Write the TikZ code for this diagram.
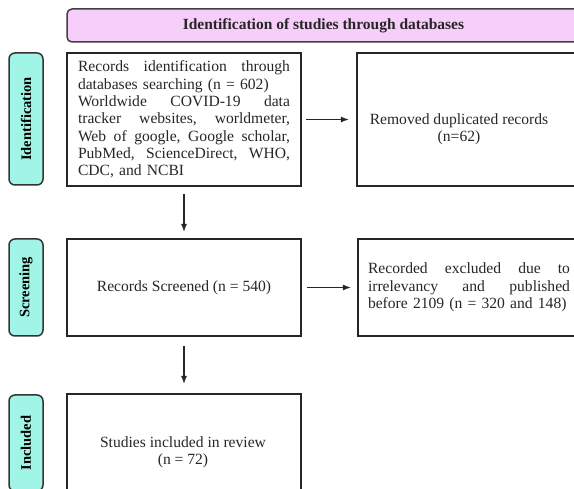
\documentclass[tikz,border=0pt]{standalone}
\usepackage{fontspec}
\setmainfont{Liberation Serif}
\usetikzlibrary{arrows.meta}
\definecolor{bannerpink}{HTML}{F7CDFA}
\definecolor{stagecyan}{HTML}{A0F5E6}
\newcommand\StageLabel[4]{%
    \node[stage, minimum width=#3pt-#2pt] (#1) at (26,{(#2+#3)/2}) {#4};
}
\newcommand\FlowBox[6]{%
    \node[box, minimum width=#4pt-#2pt, minimum height=#5pt-#3pt] (#1) at ({(#2+#4)/2},{(#3+#5)/2}) {#6};
}

\begin{document}
\begin{tikzpicture}[x=1pt,y=-1pt,
    box/.style={draw=black!85, line width=2.1pt, inner sep=0pt, text=black!85,
        font=\fontsize{15.6}{17.3}\selectfont},
    stage/.style={draw=black!80, fill=stagecyan, line width=1.5pt, rounded corners=6pt,
        rotate=90, minimum height=34pt, inner sep=0pt, font=\fontsize{14.5}{16}\selectfont\bfseries},
    txt/.style={inner sep=0pt, text=black!85, font=\fontsize{15.6}{17.3}\selectfont},
    flow/.style={-{Latex[length=8pt,width=6pt]}, line width=1.4pt, black!85}]
    \useasboundingbox (0,0) rectangle (574,489);
    \clip (0,0) rectangle (574,489);
    \node[draw=black!75, fill=bannerpink, line width=1.5pt, rounded corners=5pt,
        minimum width=513pt, minimum height=33pt, text=black!85,
        font=\fontsize{15.5}{17}\selectfont\bfseries] (banner) at (323.5,25.5)
        {Identification of studies through databases};
    \begin{scope} % Identification
        \StageLabel{identLbl}{53}{185}{Identification}
        \FlowBox{ident}{67}{53}{301}{186}{}
        \node[txt, text width=212pt, align=left] (identText) at (ident)
            {Records\hfill identification\hfill through\\
             databases searching (n = 602)\\
             Worldwide\hfill COVID-19\hfill data\\
             tracker\hfill websites,\hfill worldmeter,\\
             Web\hfill of\hfill google,\hfill Google\hfill scholar,\\
             PubMed,\hfill ScienceDirect,\hfill WHO,\\
             CDC, and NCBI};
        \FlowBox{dupl}{357}{53}{600}{186}{}
        \node[txt, align=center] (duplText) at (459,129) {Removed duplicated records\\(n=62)};
    \end{scope}
    \begin{scope} % Screening
        \StageLabel{screenLbl}{239}{336}{Screening}
        \FlowBox{screen}{67}{239}{301}{336}{Records Screened (n = 540)}
        \FlowBox{excl}{358}{239}{600}{336}{}
        \node[txt, text width=202pt, align=left] (exclText) at (469,287.5)
            {Recorded\hfill excluded\hfill due\hfill to\\
             irrelevancy\hfill and\hfill published\\
             \mbox{before 2109 (n = 320 and 148)}};
    \end{scope}
    \begin{scope} % Included
        \StageLabel{inclLbl}{395}{491}{Included}
        \FlowBox{incl}{67}{394}{301}{510}{}
        \node[txt, align=center] (inclText) at (183,452) {Studies included in review\\(n = 72)};
    \end{scope}
    \draw[flow, shorten <=4pt, shorten >=7pt] (ident) -- (dupl);
    \draw[flow, shorten <=7pt, shorten >=6pt] (ident) -- (screen);
    \draw[flow, shorten <=5pt, shorten >=6pt] (screen) -- (excl);
    \draw[flow, shorten <=9pt, shorten >=9pt] (screen) -- (incl);
\end{tikzpicture}
\end{document}
